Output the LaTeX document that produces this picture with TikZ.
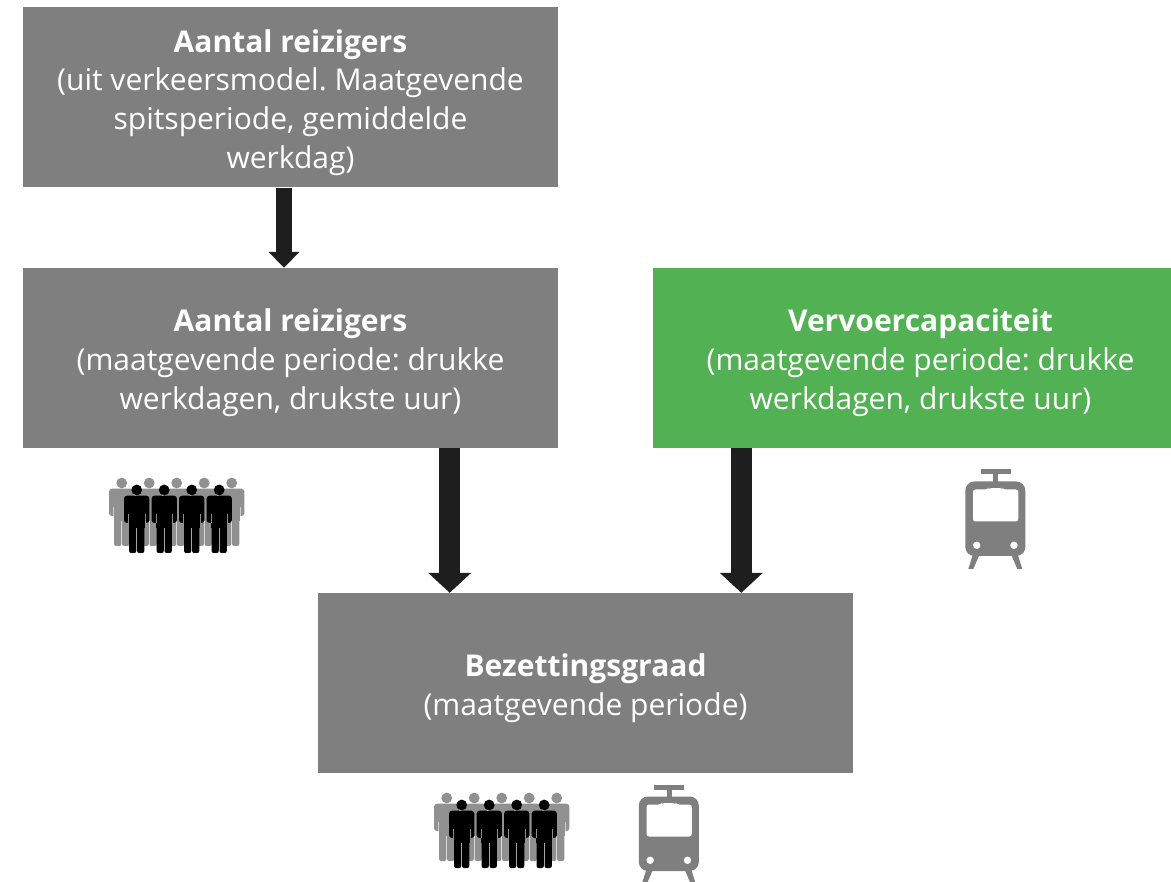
\documentclass[tikz,border=0pt]{standalone}
\usepackage{fontspec}
\setmainfont{Open Sans}
\usetikzlibrary{arrows.meta}
\definecolor{boxgrey}{HTML}{7F7F7F}
\definecolor{boxgreen}{HTML}{52B153}
\definecolor{arrowdark}{HTML}{1E1E1E}
\definecolor{crowdgrey}{HTML}{919191}
\newcommand{\toppad}{\rule{0pt}{33pt}}
\tikzset{
  x=1pt,y=-1pt,
  infobox/.style={fill=#1,text=white,minimum width=535pt,minimum height=180pt,inner sep=0pt,align=center,
    font=\fontsize{30}{38.9}\selectfont\frenchspacing},
  thinflow/.style={draw=arrowdark,line width=16pt,-{Triangle[length=16pt,width=30pt]}},
  thickflow/.style={draw=arrowdark,line width=20.5pt,-{Triangle[length=20pt,width=42pt]}},
  pics/person/.style={code={
    \fill[#1] (0,0) circle[radius=5.4];
    \fill[#1,rounded corners=3pt] (-12.7,33) rectangle (12.7,5.7);
    \fill[#1] (-8,20) rectangle (8,38);
    \fill[#1,rounded corners=2pt] (-7.6,30) rectangle (-0.4,63);
    \fill[#1,rounded corners=2pt] (0.4,30) rectangle (7.6,63);
    \draw[white,opacity=.55,line width=.6pt] (-8.2,24) -- (-8.2,33) (8.2,24) -- (8.2,33);
  }},
  pics/crowd/.style={code={
    \foreach \i in {0,1,2,3,4} { \pic at ({\i*27.5-15},-7) {person=crowdgrey}; }
    \foreach \i in {0,1,2,3} { \pic at ({\i*27.5},0) {person=black}; }
  }},
  pics/tram/.style={code={
    \fill[boxgrey] (-14.7,-0.5) rectangle (15.3,4.5);
    \fill[boxgrey] (-2,4) rectangle (3,14);
    \fill[boxgrey,rounded corners=9pt] (-30,11.5) rectangle (30,86);
    \fill[boxgrey] (-22.6,85) -- (-16,85) -- (-22,99) -- (-27,99) -- cycle;
    \fill[boxgrey] (22.6,85) -- (16,85) -- (22,99) -- (27,99) -- cycle;
    \fill[white,rounded corners=2.5pt] (-22.3,19.5) -- (-8,19.5) -- (-7,18.2) -- (7,18.2) -- (8,19.5) -- (23,19.5) -- (23,51.5) -- (-22.3,51.5) -- cycle;
    \fill[white] (-18.6,75.3) circle[radius=3.7];
    \fill[white] (18.7,75.3) circle[radius=3.7];
  }},
}
\begin{document}
\begin{tikzpicture}
\useasboundingbox (0,0) rectangle (1171,882);
\clip (0,0) rectangle (1171,882);
\node[infobox=boxgrey] (bronreizigers) at (290.5,97.5) {\toppad\textbf{Aantal reizigers}\\(uit verkeersmodel. Maatgevende\\spitsperiode, gemiddelde\\werkdag)};
\node[infobox=boxgrey] (reizigers) at (290.5,358) {\toppad\textbf{Aantal reizigers}\\(maatgevende periode: drukke\\werkdagen, drukste uur)};
\node[infobox=boxgreen] (capaciteit) at (920.5,358) {\toppad\textbf{Vervoercapaciteit}\\(maatgevende periode: drukke\\werkdagen, drukste uur)};
\node[infobox=boxgrey] (bezetting) at (585.5,683) {\toppad\textbf{Bezettingsgraad}\\(maatgevende periode)};
\coordinate (a1) at (284,0);
\coordinate (a2) at (449.7,0);
\coordinate (a3) at (741.3,0);
\draw[thinflow] (bronreizigers.south -| a1) -- (reizigers.north -| a1);
\draw[thickflow] (reizigers.south -| a2) -- (bezetting.north -| a2);
\draw[thickflow] (capaciteit.south -| a3) -- (bezetting.north -| a3);
\pic at (136.7,490) {crowd};
\pic at (461.7,805) {crowd};
\pic at (995.3,470) {tram};
\pic at (668.8,785) {tram};
\end{tikzpicture}
\end{document}
